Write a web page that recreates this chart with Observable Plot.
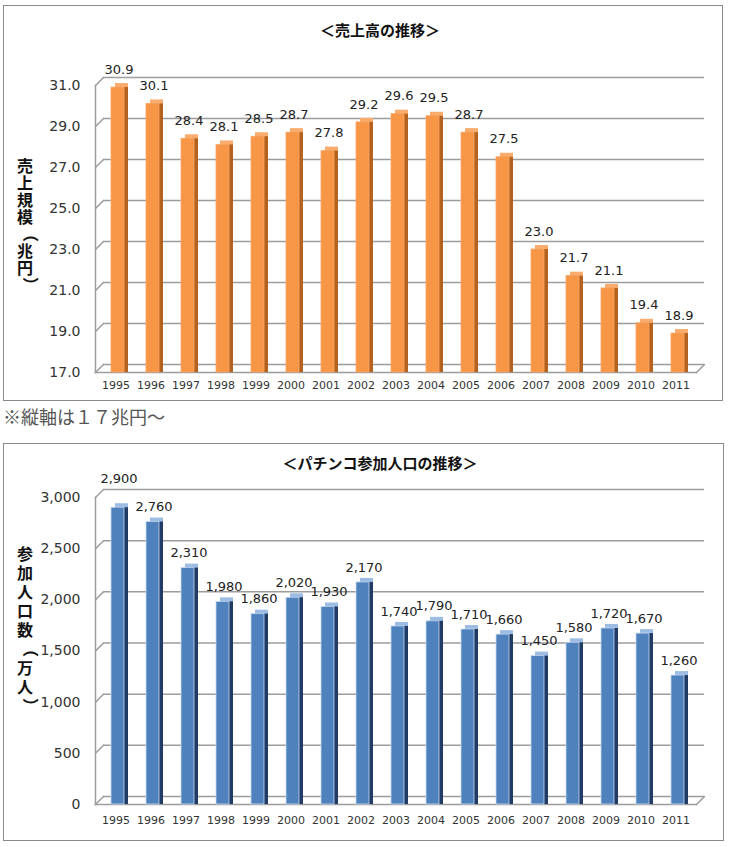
<!DOCTYPE html>
<html>
<head>
<meta charset="utf-8">
<script src="https://cdn.jsdelivr.net/npm/d3@7"></script>
<script src="https://cdn.jsdelivr.net/npm/@observablehq/plot@0.6"></script>
<style>
  body { margin: 0; background: #fff; }
  #root { position: relative; width: 730px; height: 847px; overflow: hidden; font-family: "Noto Sans CJK JP", sans-serif; }
  .box { position: absolute; border: 1.5px solid #8a8a8a; box-sizing: border-box; pointer-events: none; z-index: 2; }
  .chart { position: absolute; left: 0; z-index: 1; }
  .title { position: absolute; font-weight: bold; font-size: 15px; line-height: 1; transform: translateX(-50%); white-space: nowrap; color: #111; z-index: 3; }
  .ytitle { position: absolute; writing-mode: vertical-rl; font-weight: bold; font-size: 16px; line-height: 1; color: #111; z-index: 3; }
  .ytitle .p { text-orientation: sideways; display: inline-block; }
  .caption { position: absolute; left: 3px; top: 407px; font-size: 18px; line-height: 1; color: #555; white-space: nowrap; }
</style>
</head>
<body>
<div id="root">
  <div class="box" style="left:3px;top:5px;width:720px;height:396px;"></div>
  <div class="title" style="left:380px;top:22px;">＜売上高の推移＞</div>
  <div class="ytitle" style="left:17px;top:158px;letter-spacing:1px;">売上規模<span class="p">（</span>兆円<span class="p">）</span></div>
  <div id="chart1" class="chart" style="top:0px;"></div>
  <div class="caption">※縦軸は１７兆円～</div>

  <div class="box" style="left:3px;top:443px;width:721px;height:398px;"></div>
  <div class="title" style="left:380px;top:455px;">＜パチンコ参加人口の推移＞</div>
  <div class="ytitle" style="left:17px;top:546px;letter-spacing:3px;">参加人口数<span class="p">（</span>万人<span class="p">）</span></div>
  <div id="chart2" class="chart" style="top:440px;"></div>
</div>
<script>
const years = ["1995","1996","1997","1998","1999","2000","2001","2002","2003","2004","2005","2006","2007","2008","2009","2010","2011"];
const sales = [30.9, 30.1, 28.4, 28.1, 28.5, 28.7, 27.8, 29.2, 29.6, 29.5, 28.7, 27.5, 23.0, 21.7, 21.1, 19.4, 18.9];
const players = [2900, 2760, 2310, 1980, 1860, 2020, 1930, 2170, 1740, 1790, 1710, 1660, 1450, 1580, 1720, 1670, 1260];
const salesTicks = [17, 19, 21, 23, 25, 27, 29, 31];
const playerTicks = [0, 500, 1000, 1500, 2000, 2500, 3000];

const lineShape = { draw(context, l) { context.moveTo(0, 0); context.lineTo(0, -l); } };

function make3DChart({data, ticks, tickFmt, labelFmt, colors, marginTop, marginBottom, xPad, labelDy, maxDy}) {
  const base = ticks[0];
  const maxV = d3.max(data, d => d.value);
  const gridStyle = {stroke: "#9c9c9c", strokeWidth: 1.5};
  return Plot.plot({
    width: 730,
    height: 400,
    marginLeft: 95,
    marginRight: 34,
    marginTop,
    marginBottom,
    style: {background: "transparent", fontFamily: "DejaVu Sans", color: "#222"},
    x: {type: "band", domain: years, paddingInner: 0.63, paddingOuter: 0.315, axis: null, label: null},
    y: {domain: [ticks[0], ticks[ticks.length - 1]], axis: null, label: null},
    marks: [
      Plot.ruleY(ticks, {y: d => d, dx: 8, dy: -8, ...gridStyle}),
      Plot.vector(ticks, {y: d => d, frameAnchor: "left", length: 11.3, rotate: 45, anchor: "start", shape: lineShape, ...gridStyle}),
      Plot.vector([0], {frameAnchor: "bottom-right", length: 11.3, rotate: 45, anchor: "start", shape: lineShape, ...gridStyle}),
      Plot.frame({anchor: "left", ...gridStyle}),
      Plot.frame({anchor: "bottom", ...gridStyle}),
      Plot.barY(data, {x: "year", y1: base, y2: "value", fill: colors.top, dx: 6, dy: -4}),
      Plot.barY(data, {x: "year", y1: base, y2: "value", fill: colors.side, dx: 6}),
      Plot.barY(data, {x: "year", y1: base, y2: "value", fill: colors.front, dx: 2, stroke: colors.edge, strokeWidth: 0.8}),
      Plot.text(data.filter(d => d.value !== maxV || !maxDy), {x: "year", y: "value", text: d => labelFmt(d.value), dy: -labelDy, dx: 3, fontSize: 13, fill: "#222"}),
      Plot.text(data.filter(d => d.value === maxV && maxDy), {x: "year", y: "value", text: d => labelFmt(d.value), dy: -maxDy, dx: 3, fontSize: 13, fill: "#222"}),
      Plot.axisY({ticks, tickFormat: tickFmt, tickSize: 0, tickPadding: 15, fontSize: 14, fill: "#333", label: null}),
      Plot.axisX({tickSize: 0, tickPadding: xPad, fontSize: 11, fill: "#333", label: null})
    ]
  });
}

const salesData = years.map((year, i) => ({year, value: sales[i]}));
const playerData = years.map((year, i) => ({year, value: players[i]}));

document.getElementById("chart1").append(make3DChart({
  data: salesData,
  ticks: salesTicks,
  tickFmt: d3.format(".1f"),
  labelFmt: d3.format(".1f"),
  colors: {front: "#F79646", side: "#B5621E", top: "#F9AC6E", edge: "#F9A766"},
  marginTop: 85,
  marginBottom: 28,
  xPad: 9,
  labelDy: 18,
  maxDy: 0
}));

document.getElementById("chart2").append(make3DChart({
  data: playerData,
  ticks: playerTicks,
  tickFmt: d3.format(","),
  labelFmt: d3.format(","),
  colors: {front: "#4F81BD", side: "#1F3B66", top: "#9DBCE4", edge: "#C6D9F1"},
  marginTop: 57,
  marginBottom: 36,
  xPad: 12,
  labelDy: 15,
  maxDy: 29
}));
</script>
</body>
</html>
